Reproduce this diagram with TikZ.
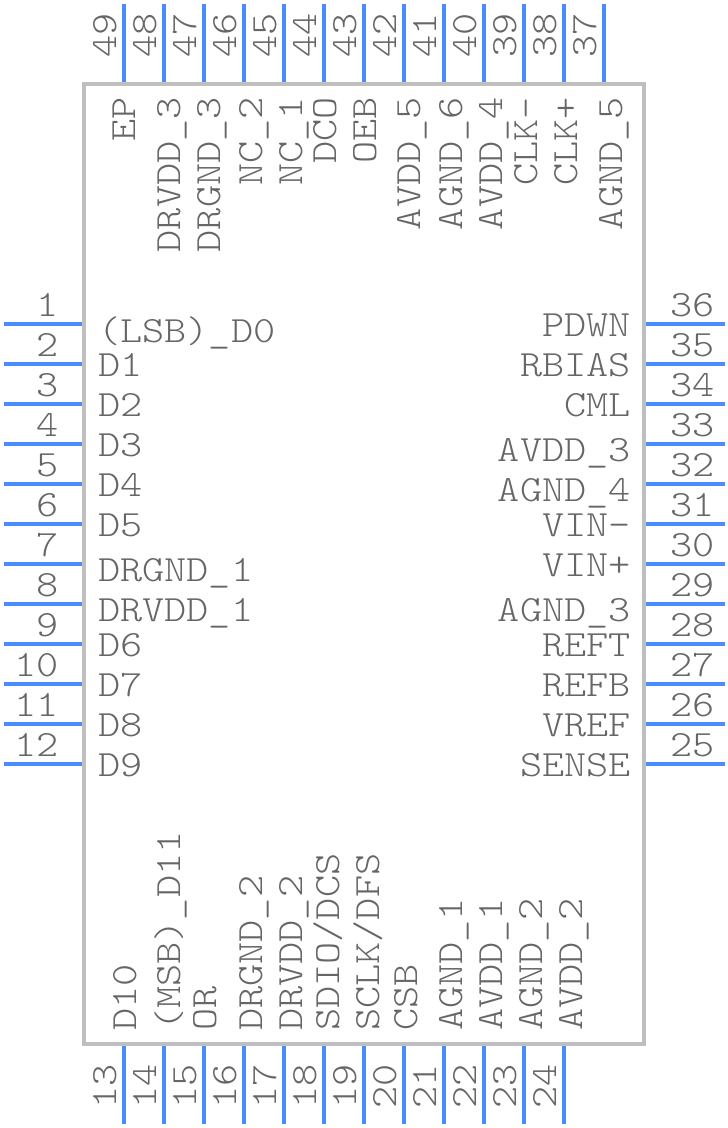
\documentclass[tikz,border=0pt]{standalone}
\usepackage{fontspec}
\newfontfamily\pinfont[FakeStretch=1.14]{Latin Modern Mono Light}
\definecolor{PinBlue}{HTML}{4A8CFF}
\definecolor{BodyGray}{HTML}{BFBFBF}
\definecolor{LabelGray}{HTML}{666666}
\tikzset{
  % Box styles
  chipbody/.style={rectangle, draw=BodyGray, line width=4pt, minimum width=560pt, minimum height=960pt, inner sep=0pt},
  % Line styles
  pinline/.style={PinBlue, line width=4pt},
  % Text styles
  pintext/.style={inner sep=0pt, text=LabelGray, font=\fontsize{37}{38}\pinfont},
  leftlabel/.style={pintext, anchor=base west},
  rightlabel/.style={pintext, anchor=base east},
  toplabel/.style={pintext, anchor=base east, rotate=90},
  botlabel/.style={pintext, anchor=base west, rotate=90}
}
\begin{document}
\begin{tikzpicture}[x=1pt, y=-1pt]
  \useasboundingbox (0,0) rectangle (728,1128);

  % Package outline
  \node[chipbody] (chip) at (364,564) {};

  % Left pins
  \foreach \n [evaluate=\n as \py using {int(324+(\n-1)*40)}] in {1,...,12} {
    \coordinate (pin\n) at (4,\py);
    \draw[pinline] (pin\n) -- (pin\n -| chip.west);
    \node[rightlabel] (num\n) at (59,\py-8) {\n};
  }
  % Bottom pins
  \foreach \n [evaluate=\n as \px using {int(124+(\n-13)*40)}] in {13,...,24} {
    \coordinate (pin\n) at (\px,1124);
    \draw[pinline] (pin\n) -- (pin\n |- chip.south);
    \node[botlabel] (num\n) at (\px-8,1109) {\n};
  }
  % Right pins
  \foreach \n [evaluate=\n as \py using {int(764-(\n-25)*40)}] in {25,...,36} {
    \coordinate (pin\n) at (725,\py);
    \draw[pinline] (pin\n) -- (pin\n -| chip.east);
    \node[leftlabel] (num\n) at (670,\py-8) {\n};
  }
  % Top pins
  \foreach \n [evaluate=\n as \px using {int(604-(\n-37)*40)}] in {37,...,49} {
    \coordinate (pin\n) at (\px,4);
    \draw[pinline] (pin\n) -- (pin\n |- chip.north);
    \node[botlabel] (num\n) at (\px-8,58) {\n};
  }

  % Left labels
  \foreach \n/\txt/\py in {1/(LSB)\_D0/342, 2/D1/376, 3/D2/416, 4/D3/456, 5/D4/496, 6/D5/536,
      7/DRGND\_1/581, 8/DRVDD\_1/621, 9/D6/656, 10/D7/696, 11/D8/736, 12/D9/776} {
    \node[leftlabel] (lab\n) at (98,\py) {\txt};
  }
  % Right labels
  \foreach \n/\txt/\py in {36/PDWN/336, 35/RBIAS/376, 34/CML/416, 33/AVDD\_3/461, 32/AGND\_4/501,
      31/VIN-/536, 30/VIN+/576, 29/AGND\_3/621, 28/REFT/656, 27/REFB/696,
      26/VREF/736, 25/SENSE/776} {
    \node[rightlabel] (lab\n) at (631,\py) {\txt};
  }
  % Top labels
  \foreach \n/\txt/\px in {49/EP/135, 48/DRVDD\_3/180, 47/DRGND\_3/220, 46/NC\_2/262, 45/NC\_1/302,
      44/DCO/336, 43/OEB/376, 42/AVDD\_5/420, 41/AGND\_6/462, 40/AVDD\_4/502,
      39/CLK-/537, 38/CLK+/577, 37/AGND\_5/622} {
    \node[toplabel] (lab\n) at (\px,97) {\txt};
  }
  % Bottom labels
  \foreach \n/\txt/\px in {13/D10/136, 14/(MSB)\_D11/180, 15/OR/216, 16/DRGND\_2/262, 17/DRVDD\_2/302,
      18/SDIO\slash DCS/339, 19/SCLK\slash DFS/379, 20/CSB/417, 21/AGND\_1/462, 22/AVDD\_1/502,
      23/AGND\_2/542, 24/AVDD\_2/582} {
    \node[botlabel] (lab\n) at (\px,1031) {\txt};
  }
\end{tikzpicture}
\end{document}
